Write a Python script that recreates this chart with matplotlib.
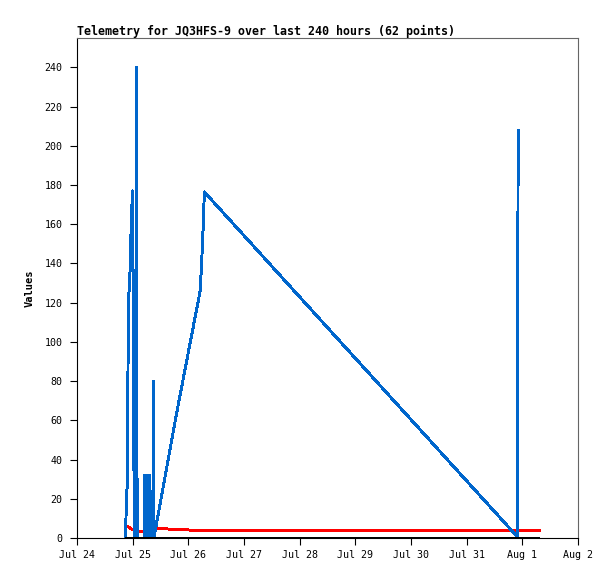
import datetime as dt
import matplotlib
matplotlib.use("Agg")
import matplotlib.pyplot as plt
import matplotlib.dates as mdates
from matplotlib.ticker import FuncFormatter
import numpy as np

# ---- data (hours after Jul 24 00:00) ----
hours = [20.98, 21.2, 21.6, 22.2, 22.9, 23.2, 23.6, 24.0, 24.35, 24.7, 25.6, 25.75, 25.9, 27.5,
         29.00, 29.07, 29.14, 29.21, 29.28, 29.35, 29.42, 29.49, 29.56, 29.63, 29.70, 29.77,
         29.84, 29.91, 29.98, 30.05, 30.12, 30.19, 30.26, 30.33, 30.40, 30.47, 30.54, 30.61,
         30.68, 30.75, 30.82, 30.89, 30.96, 31.03, 31.10, 31.17, 31.24, 31.31, 31.38, 31.45,
         31.6, 32.85, 32.95, 33.15, 43.0, 53.1, 53.8, 54.5, 54.9, 189.8, 190.2, 199.2]

blue = [0, 16, 26, 120, 137, 152, 168, 177, 88, 0, 0, 240, 0, 0,
        0, 32, 0, 32, 0, 32, 0, 32, 0, 32, 0, 32,
        0, 32, 0, 32, 0, 32, 0, 32, 0, 32, 0, 32,
        0, 32, 0, 32, 0, 32, 0, 32, 0, 32, 0, 32,
        0, 0, 80, 0, 64, 126, 142, 161.5, 176.5, 0.7, 208, np.nan]

red = [5.5, 5.8, 6.1, 5.6, 5.0, 4.8, 4.6, 4.5, 4.4, 4.3, 4.1, 4.0, 3.9, 3.1,
       3.1, 3.1, 3.2, 3.3, 3.4, 3.5, 3.6, 3.7, 3.8, 3.9, 4.0, 4.1,
       4.2, 4.3, 4.4, 4.5, 4.6, 4.7, 4.8, 4.9, 5.0, 5.0, 5.0, 5.0,
       5.0, 5.0, 5.0, 5.0, 5.0, 5.0, 5.0, 5.0, 5.0, 5.0, 5.0, 5.0,
       5.0, 4.9, 4.9, 4.9, 4.4, 3.8, 3.8, 3.8, 3.7, 3.7, 3.7, 3.7]

black = [0] * 62

y_ticks = [0, 20, 40, 60, 80, 100, 120, 140, 160, 180, 200, 220, 240]
title = "Telemetry for JQ3HFS-9 over last 240 hours (62 points)"
ylabel = "Values"

base = dt.datetime(2024, 7, 24)
times = [base + dt.timedelta(hours=h) for h in hours]

plt.rcParams['font.family'] = ['DejaVu Sans Mono']

fig = plt.figure(figsize=(6.15, 5.79), dpi=100)
ax = fig.add_axes([77/615, 41/579, 501/615, 500/579])

ax.plot(times, red, color='#ff0000', lw=1.4, antialiased=False, zorder=2)
ax.plot(times, blue, color='#0066cc', lw=1.4, antialiased=False, zorder=3)
ax.plot(times, black, color='#000000', lw=1.4, antialiased=False, zorder=4)

ax.set_xlim(base, base + dt.timedelta(days=9))
ax.set_ylim(0, 255)
ax.set_yticks(y_ticks)
ax.xaxis.set_major_locator(mdates.DayLocator())
ax.xaxis.set_major_formatter(FuncFormatter(lambda v, p: (lambda d: f"{d:%b} {d.day}")(mdates.num2date(v))))

for s in ['top', 'right']:
    ax.spines[s].set_color('#666666')
    ax.spines[s].set_linewidth(0.8)
for s in ['left', 'bottom']:
    ax.spines[s].set_color('black')
    ax.spines[s].set_linewidth(0.8)

ax.tick_params(axis='both', direction='out', length=5, width=0.8, color='black', labelsize=7.2)
ax.tick_params(axis='y', pad=5.5)
ax.tick_params(axis='x', pad=3.5)

ax.set_ylabel(ylabel, fontsize=7.5, fontweight='bold', labelpad=7)
ax.set_title(title, loc='left', fontsize=8.4, fontweight='bold', pad=2.5)

fig.savefig("out.png", dpi=100)
